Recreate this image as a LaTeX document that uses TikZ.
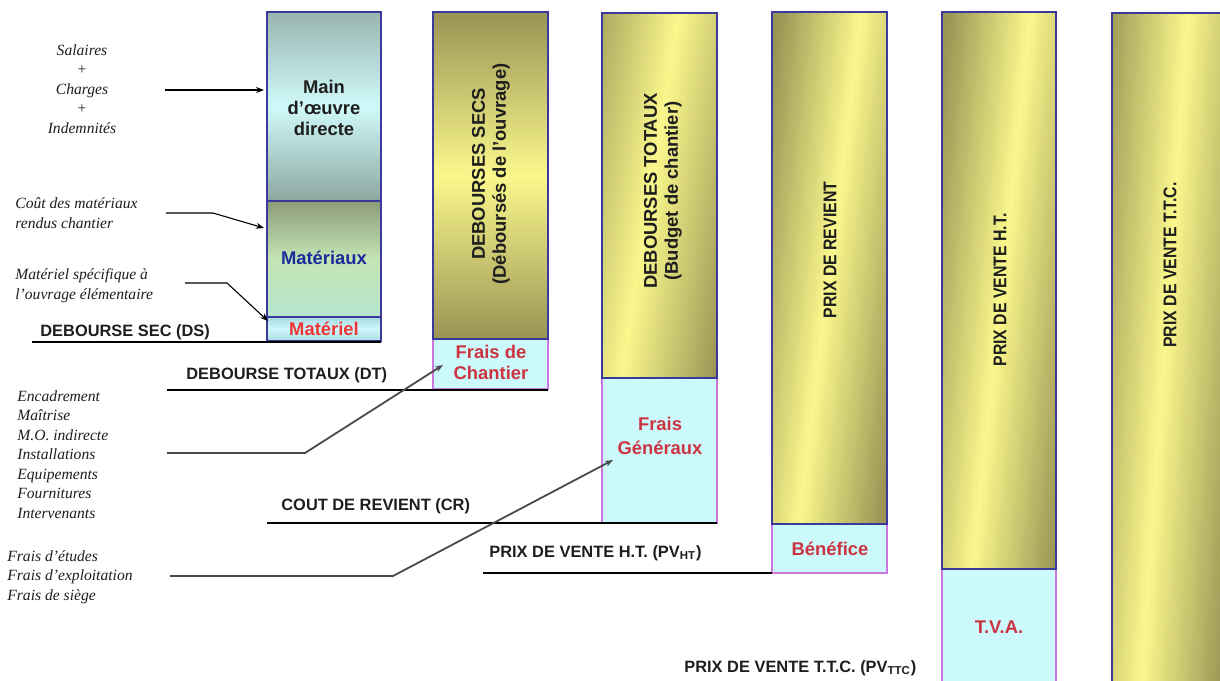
\documentclass[tikz,border=0pt]{standalone}
\usepackage{fontspec}
\usepackage{graphicx}
\setmainfont{Liberation Serif}
\setsansfont{Liberation Sans}
\usetikzlibrary{arrows.meta}

% palette
\definecolor{bordblue}{HTML}{3A3A9A}
\definecolor{bordmag}{HTML}{CC77DD}
\definecolor{cyanfill}{HTML}{CCFAFC}
\definecolor{olive}{HTML}{9A9455}
\definecolor{lyellow}{HTML}{FAF88C}
\definecolor{labred}{HTML}{CC3340}
\definecolor{brightred}{HTML}{EE3535}
\definecolor{navy}{HTML}{1A2A9A}
\definecolor{inkc}{HTML}{1E1E1E}
\definecolor{leadgray}{HTML}{4A4A4A}
\definecolor{moA}{HTML}{98B4B0}
\definecolor{moB}{HTML}{D0FAFA}
\definecolor{moC}{HTML}{8CA8A0}
\definecolor{maA}{HTML}{8C9C7A}
\definecolor{maB}{HTML}{C4E4B4}
\definecolor{maC}{HTML}{B6E6CE}
\definecolor{mtA}{HTML}{A8DAE2}
\definecolor{mtB}{HTML}{D0F8FC}

\newcommand\boxfont{\sffamily\bfseries\fontsize{9.2}{10.5}\selectfont}
\newcommand\levelfont{\sffamily\bfseries\fontsize{8.2}{10}\selectfont}
\newcommand\notefont{\itshape\fontsize{7.8}{9.75}\selectfont}

% gold column body: olive base clipped to the box, then a tilted light band
% #1 x-left, #2 y-top, #3 x-right, #4 y-bottom, #5 tilt, #6 band half-width, #7 band x-offset
\newcommand\goldbody[7]{%
  \begin{scope}
    \clip (#1,#2) rectangle (#3,#4);
    \fill[olive] (#1,#2) rectangle (#3,#4);
    \begin{scope}[transform canvas={rotate around={#5:({(#1+#3)/2},{(#2+#4)/2})}}]
      \shade[left color=olive, right color=olive, middle color=lyellow]
        ({(#1+#3)/2+#7-#6},{#2-120}) rectangle ({(#1+#3)/2+#7+#6},{#4+120});
    \end{scope}
  \end{scope}}

\begin{document}
\begin{tikzpicture}[x=0.5pt,y=-0.5pt,
  boxlabel/.style={font=\boxfont, text=inkc, align=center, inner sep=0pt},
  vlabel/.style={boxlabel, rotate=90},
  level/.style={font=\levelfont, text=inkc, anchor=west, inner sep=0pt},
  note/.style={font=\notefont, text=inkc, align=left, anchor=west, inner sep=0pt},
  goldborder/.style={draw=bordblue, line width=0.7pt},
  extraborder/.style={draw=bordmag, line width=0.7pt, fill=cyanfill},
  leader/.style={draw=black, line width=0.55pt},
  longleader/.style={draw=leadgray, line width=0.9pt},
  tip/.style={-{Stealth[length=4pt,width=3pt]}}
]
\useasboundingbox (0,0) rectangle (1220,680);
\fill[white] (0,0) rectangle (1220,680);

% ---------- column 1 : dry costs breakdown ----------
\shade[top color=moA, bottom color=moC, middle color=moB] (267,12) rectangle (381,201);
\shade[top color=maA, bottom color=maC, middle color=maB] (267,201) rectangle (381,317);
\shade[top color=mtA, bottom color=mtA, middle color=mtB] (267,317) rectangle (381,341);
\draw[bordblue, line width=0.6pt] (267,12) rectangle (381,341) (267,201) -- (381,201) (267,317) -- (381,317);
\coordinate (c1mo) at (264,90);
\coordinate (c1ma) at (264,228);
\coordinate (c1mt) at (268,321);
\coordinate (c1br) at (381,342);

\node[boxlabel] (mo) at (324,108) {Main\\d’œuvre\\directe};
\node[boxlabel, text=navy] (mat) at (324,258) {Matériaux};
\node[boxlabel, text=brightred] (mtl) at (324,329) {Matériel};

% ---------- column 2 : débours secs ----------
\shade[top color=olive, bottom color=olive, middle color=lyellow] (433,12) rectangle (548,339);
\path[extraborder] (433,339) rectangle (548,389);
\draw[goldborder] (433,12) rectangle (548,339);
\node[vlabel] (ds) at (491,174) {DEBOURSES SECS\\(Déboursés de l’ouvrage)};
\node[boxlabel, text=labred] (fc) at (491,362) {Frais de\\Chantier};
\coordinate (fcin) at (443,365);
\coordinate (c2bl) at (433,390);
\coordinate (c2br) at (548,390);

% ---------- column 3 : débours totaux ----------
\goldbody{602}{13}{717}{378}{-9}{95}{-10}
\path[extraborder] (602,378) rectangle (717,523);
\draw[goldborder] (602,13) rectangle (717,378);
\node[vlabel] (dt) at (663,191) {DEBOURSES TOTAUX\\(Budget de chantier)};
\node[boxlabel, text=labred, font=\boxfont\linespread{1.15}\selectfont] (fg) at (660,436) {Frais\\Généraux};
\coordinate (fgin) at (613,460);
\coordinate (c3br) at (717,523);

% ---------- column 4 : prix de revient ----------
\goldbody{772}{12}{887}{524}{-7}{82}{0}
\path[extraborder] (772,524) rectangle (887,573);
\draw[goldborder] (772,12) rectangle (887,524);
\node[vlabel] (pr) at (830,250) {\scalebox{0.86}[1]{PRIX DE REVIENT}};
\node[boxlabel, text=labred] (ben) at (830,549) {Bénéfice};
\coordinate (c4bl) at (772,573);

% ---------- column 5 : prix de vente HT ----------
\goldbody{942}{12}{1056}{569}{-6}{82}{2}
\path[extraborder] (942,569) rectangle (1056,700);
\draw[goldborder] (942,12) rectangle (1056,569);
\node[vlabel] (pvht) at (1000,290) {\scalebox{0.86}[1]{PRIX DE VENTE H.T.}};
\node[boxlabel, text=labred] (tva) at (999,627) {T.V.A.};

% ---------- column 6 : prix de vente TTC ----------
\goldbody{1112}{13}{1227}{700}{-4}{82}{-6}
\draw[goldborder] (1112,13) rectangle (1227,700);
\node[vlabel] (pvttc) at (1170,265) {\scalebox{0.86}[1]{PRIX DE VENTE T.T.C.}};

% ---------- level lines ----------
\node[level] (lds) at (40,332) {DEBOURSE SEC (DS)};
\coordinate (dsL) at (32,342);
\draw[leader, line width=0.7pt] (dsL) -- (c1br);

\node[level] (ldt) at (186,375) {DEBOURSE TOTAUX (DT)};
\coordinate (dtL) at (167,390);
\draw[leader, line width=0.7pt] (dtL) -- (c2bl) -- (c2br);

\node[level] (lcr) at (281,506) {COUT DE REVIENT (CR)};
\coordinate (crL) at (267,523);
\draw[leader, line width=0.7pt] (crL) -- (c3br);

\node[level] (lpvht) at (489,553) {PRIX DE VENTE H.T. (PV\textsubscript{HT})};
\coordinate (pvL) at (483,573);
\draw[leader, line width=0.7pt] (pvL) -- (c4bl);

\node[level] (lpvttc) at (684,668) {PRIX DE VENTE T.T.C. (PV\textsubscript{TTC})};

% ---------- cost notes and leaders ----------
\node[note, align=center, anchor=center] (nsal) at (82,89) {Salaires\\+\\Charges\\+\\Indemnités};
\coordinate (salS) at (165,90);
\draw[leader, tip] (salS) -- (c1mo);

\node[note] (nmat) at (15,213) {Coût des matériaux\\rendus chantier};
\coordinate (matS) at (166,213);
\coordinate (matK) at (213,213);
\draw[leader, tip] (matS) -- (matK) -- (c1ma);

\node[note] (nmtl) at (15,285.5) {Matériel spécifique à\\l’ouvrage élémentaire};
\coordinate (mtlS) at (185,283);
\coordinate (mtlK) at (227,283);
\draw[leader, tip] (mtlS) -- (mtlK) -- (c1mt);

\node[note] (nenc) at (17,454.5) {Encadrement\\Maîtrise\\M.O. indirecte\\Installations\\Equipements\\Fournitures\\Intervenants};
\coordinate (encS) at (167,453);
\coordinate (encK) at (305,453);
\draw[longleader, tip] (encS) -- (encK) -- (fcin);

\node[note] (nfr) at (7,577) {Frais d’études\\Frais d’exploitation\\Frais de siège};
\coordinate (frS) at (170,576);
\coordinate (frK) at (393,576);
\draw[longleader, tip] (frS) -- (frK) -- (fgin);
\end{tikzpicture}
\end{document}
